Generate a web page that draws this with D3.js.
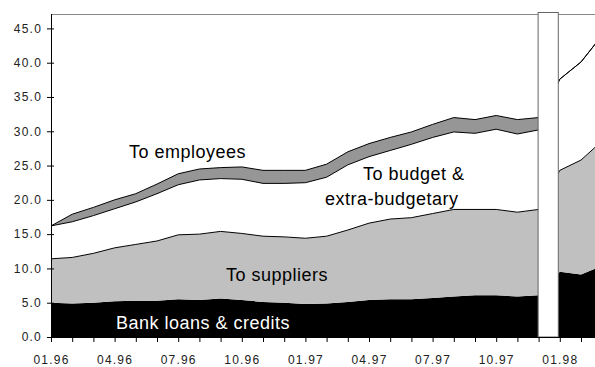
<!DOCTYPE html>
<html>
<head>
<meta charset="utf-8">
<script src="https://cdn.jsdelivr.net/npm/d3@7"></script>
<style>
  html, body { margin: 0; padding: 0; background: #fff; }
  svg { display: block; }
  .tick text { font-family: "Liberation Sans", Arial, sans-serif; font-size: 12px; letter-spacing: 1.2px; fill: #222; }
  .lbl { font-family: "Liberation Sans", Arial, sans-serif; font-size: 18px; letter-spacing: 0.5px; }
</style>
</head>
<body>
<svg id="chart" width="595" height="367"></svg>
<script>
// Monthly periods, 01.96 – 03.98
const months = [
  "01.96","02.96","03.96","04.96","05.96","06.96","07.96","08.96","09.96","10.96","11.96","12.96",
  "01.97","02.97","03.97","04.97","05.97","06.97","07.97","08.97","09.97","10.97","11.97","12.97",
  "01.98","02.98","03.98"
];

// Arrears by creditor (stacked, bottom to top)
const bankLoans = [5.0,4.9,5.0,5.2,5.3,5.3,5.5,5.4,5.6,5.4,5.1,5.0,4.8,4.9,5.1,5.4,5.5,5.5,5.7,5.9,6.1,6.1,5.9,6.1,9.5,9.1,10.4];
const suppliers = [6.4,6.7,7.2,7.8,8.2,8.7,9.4,9.6,9.8,9.7,9.6,9.6,9.6,9.8,10.5,11.2,11.7,11.9,12.3,12.7,12.5,12.5,12.3,12.5,14.8,16.7,18.2];
const budget    = [4.8,5.2,5.5,5.7,6.2,6.9,7.3,7.9,7.7,7.9,7.7,7.8,8.1,8.6,9.5,9.7,10.0,10.7,11.1,11.3,11.1,11.7,11.4,11.6,13.3,14.3,15.4];
const employees = [0.0,1.1,1.2,1.3,1.2,1.4,1.6,1.6,1.6,1.8,1.9,1.9,1.8,1.9,1.9,1.9,1.9,1.8,1.9,2.1,2.0,2.0,2.1,1.8,0.0,0.0,0.0];

const xTickLabels = ["01.96","04.96","07.96","10.96","01.97","04.97","07.97","10.97","01.98"];
const yTickValues = [0,5,10,15,20,25,30,35,40,45];
const breakFrom = "12.97", breakTo = "01.98";

const keys = ["bank","suppliers","budget","employees"];
const fills = { bank: "#000000", suppliers: "#c0c0c0", budget: "#ffffff", employees: "#969696" };

const rows = months.map((m, i) => ({
  month: m,
  bank: bankLoans[i],
  suppliers: suppliers[i],
  budget: budget[i],
  employees: employees[i]
}));

const svg = d3.select("#chart");
const plotLeft = 51, plotTop = 14, plotBottom = 337;

const x = d3.scalePoint().domain(months).range([plotLeft, plotLeft + 21.2 * (months.length - 1)]);
const y = d3.scaleLinear().domain([0, 47.1]).range([plotBottom, plotTop]);

const series = d3.stack().keys(keys)(rows);

const area = d3.area()
  .x(d => x(d.data.month))
  .y0(d => y(d[0]))
  .y1(d => y(d[1]));

const edge = d3.line()
  .x(d => x(d.data.month))
  .y(d => y(d[1]));

const plot = svg.append("g");

plot.selectAll("path.layer")
  .data(series)
  .join("path")
  .attr("class", "layer")
  .attr("fill", s => fills[s.key])
  .attr("d", area);

// Upper outlines of the stacked layers
plot.selectAll("path.edge")
  .data(series.filter(s => s.key !== "bank"))
  .join("path")
  .attr("class", "edge")
  .attr("fill", "none")
  .attr("stroke", "#000")
  .attr("stroke-width", 1)
  .attr("d", edge);

// Plot frame top
svg.append("line")
  .attr("x1", plotLeft).attr("x2", 595)
  .attr("y1", plotTop + 0.5).attr("y2", plotTop + 0.5)
  .attr("stroke", "#888").attr("stroke-width", 1);

// Break in the series
const bx0 = x(breakFrom) - 0.5, bx1 = x(breakTo) - 1.5;
svg.append("rect")
  .attr("x", bx0).attr("y", 12.5)
  .attr("width", bx1 - bx0).attr("height", plotBottom - 12.5)
  .attr("fill", "#fff")
  .attr("stroke", "#666").attr("stroke-width", 1);

// Axes
const yAxis = svg.append("g")
  .attr("transform", `translate(${plotLeft},0)`)
  .call(d3.axisLeft(y).tickValues(yTickValues).tickFormat(d3.format(".1f")).tickSize(4).tickPadding(5));
yAxis.select(".domain").attr("d", `M0.5,${plotTop}V${plotBottom}`).attr("stroke", "#000");
yAxis.selectAll(".tick line").attr("x1", 3).attr("x2", -4).attr("stroke", "#000");

const xAxis = svg.append("g")
  .attr("transform", `translate(0,${plotBottom})`)
  .call(d3.axisBottom(x)
    .tickValues(months)
    .tickFormat(m => xTickLabels.includes(m) ? m : "")
    .tickSize(5).tickPadding(13));
xAxis.select(".domain").attr("d", `M${plotLeft},0.5H595`).attr("stroke", "#000");
xAxis.selectAll(".tick line").attr("stroke", "#000");

// Series labels
const labels = [
  { text: "To employees", x: 129, y: 158, color: "#000" },
  { text: "To budget &", x: 363, y: 180, color: "#000" },
  { text: "extra-budgetary", x: 325, y: 205, color: "#000" },
  { text: "To suppliers", x: 226, y: 281, color: "#000" },
  { text: "Bank loans & credits", x: 116, y: 329, color: "#fff" }
];
svg.selectAll("text.lbl")
  .data(labels)
  .join("text")
  .attr("class", "lbl")
  .attr("x", d => d.x)
  .attr("y", d => d.y)
  .attr("fill", d => d.color)
  .text(d => d.text);
</script>
</body>
</html>
